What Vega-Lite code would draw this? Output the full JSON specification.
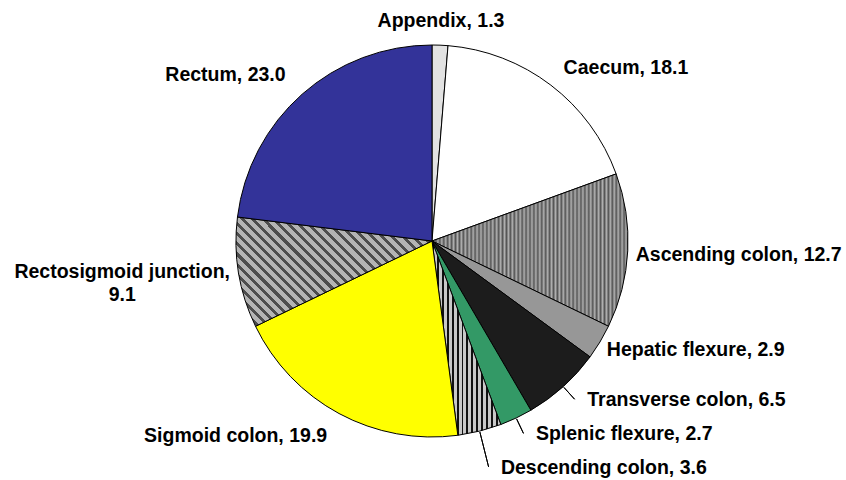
{
  "$schema": "https://vega.github.io/schema/vega-lite/v6.json",
  "width": 828,
  "height": 478,
  "padding": {"left": 18, "top": 2, "right": 0, "bottom": 0},
  "autosize": {"type": "none"},
  "background": "white",
  "config": {"view": {"stroke": null}, "text": {"font": "Liberation Sans", "fontWeight": "bold", "fontSize": 19.5, "color": "black", "baseline": "middle"}},
  "data": {
    "values": [
      {"idx": 1, "part": "Appendix", "pct": 1.3, "label": "Appendix, 1.3"},
      {"idx": 2, "part": "Caecum", "pct": 18.1, "label": "Caecum, 18.1"},
      {"idx": 3, "part": "Ascending colon", "pct": 12.7, "label": "Ascending colon, 12.7"},
      {"idx": 4, "part": "Hepatic flexure", "pct": 2.9, "label": "Hepatic flexure, 2.9"},
      {"idx": 5, "part": "Transverse colon", "pct": 6.5, "label": "Transverse colon, 6.5"},
      {"idx": 6, "part": "Splenic flexure", "pct": 2.7, "label": "Splenic flexure, 2.7"},
      {"idx": 7, "part": "Descending colon", "pct": 3.6, "label": "Descending colon, 3.6"},
      {"idx": 8, "part": "Sigmoid colon", "pct": 19.9, "label": "Sigmoid colon, 19.9"},
      {"idx": 9, "part": "Rectosigmoid junction", "pct": 9.1, "label": "Rectosigmoid junction,\n9.1"},
      {"idx": 10, "part": "Rectum", "pct": 23.0, "label": "Rectum, 23.0"}
    ]
  },
  "layer": [
    {
      "mark": {"type": "arc", "radius": 196, "stroke": "black", "strokeWidth": 1},
      "encoding": {
        "theta": {"field": "pct", "type": "quantitative", "stack": true},
        "order": {"field": "idx", "type": "quantitative"},
        "fill": {
          "condition": [
            {"test": "datum.part === 'Ascending colon'", "value": {"gradient": "linear", "x1": 0, "y1": 0, "x2": 1, "y2": 0, "stops": [
              {"offset":0,"color":"#555"},{"offset":0.01,"color":"#b0b0b0"},{"offset":0.02,"color":"#555"},{"offset":0.03,"color":"#b0b0b0"},{"offset":0.04,"color":"#555"},{"offset":0.05,"color":"#b0b0b0"},{"offset":0.06,"color":"#555"},{"offset":0.07,"color":"#b0b0b0"},{"offset":0.08,"color":"#555"},{"offset":0.09,"color":"#b0b0b0"},
              {"offset":0.1,"color":"#555"},{"offset":0.11,"color":"#b0b0b0"},{"offset":0.12,"color":"#555"},{"offset":0.13,"color":"#b0b0b0"},{"offset":0.14,"color":"#555"},{"offset":0.15,"color":"#b0b0b0"},{"offset":0.16,"color":"#555"},{"offset":0.17,"color":"#b0b0b0"},{"offset":0.18,"color":"#555"},{"offset":0.19,"color":"#b0b0b0"},
              {"offset":0.2,"color":"#555"},{"offset":0.21,"color":"#b0b0b0"},{"offset":0.22,"color":"#555"},{"offset":0.23,"color":"#b0b0b0"},{"offset":0.24,"color":"#555"},{"offset":0.25,"color":"#b0b0b0"},{"offset":0.26,"color":"#555"},{"offset":0.27,"color":"#b0b0b0"},{"offset":0.28,"color":"#555"},{"offset":0.29,"color":"#b0b0b0"},
              {"offset":0.3,"color":"#555"},{"offset":0.31,"color":"#b0b0b0"},{"offset":0.32,"color":"#555"},{"offset":0.33,"color":"#b0b0b0"},{"offset":0.34,"color":"#555"},{"offset":0.35,"color":"#b0b0b0"},{"offset":0.36,"color":"#555"},{"offset":0.37,"color":"#b0b0b0"},{"offset":0.38,"color":"#555"},{"offset":0.39,"color":"#b0b0b0"},
              {"offset":0.4,"color":"#555"},{"offset":0.41,"color":"#b0b0b0"},{"offset":0.42,"color":"#555"},{"offset":0.43,"color":"#b0b0b0"},{"offset":0.44,"color":"#555"},{"offset":0.45,"color":"#b0b0b0"},{"offset":0.46,"color":"#555"},{"offset":0.47,"color":"#b0b0b0"},{"offset":0.48,"color":"#555"},{"offset":0.49,"color":"#b0b0b0"},
              {"offset":0.5,"color":"#555"},{"offset":0.51,"color":"#b0b0b0"},{"offset":0.52,"color":"#555"},{"offset":0.53,"color":"#b0b0b0"},{"offset":0.54,"color":"#555"},{"offset":0.55,"color":"#b0b0b0"},{"offset":0.56,"color":"#555"},{"offset":0.57,"color":"#b0b0b0"},{"offset":0.58,"color":"#555"},{"offset":0.59,"color":"#b0b0b0"},
              {"offset":0.6,"color":"#555"},{"offset":0.61,"color":"#b0b0b0"},{"offset":0.62,"color":"#555"},{"offset":0.63,"color":"#b0b0b0"},{"offset":0.64,"color":"#555"},{"offset":0.65,"color":"#b0b0b0"},{"offset":0.66,"color":"#555"},{"offset":0.67,"color":"#b0b0b0"},{"offset":0.68,"color":"#555"},{"offset":0.69,"color":"#b0b0b0"},
              {"offset":0.7,"color":"#555"},{"offset":0.71,"color":"#b0b0b0"},{"offset":0.72,"color":"#555"},{"offset":0.73,"color":"#b0b0b0"},{"offset":0.74,"color":"#555"},{"offset":0.75,"color":"#b0b0b0"},{"offset":0.76,"color":"#555"},{"offset":0.77,"color":"#b0b0b0"},{"offset":0.78,"color":"#555"},{"offset":0.79,"color":"#b0b0b0"},
              {"offset":0.8,"color":"#555"},{"offset":0.81,"color":"#b0b0b0"},{"offset":0.82,"color":"#555"},{"offset":0.83,"color":"#b0b0b0"},{"offset":0.84,"color":"#555"},{"offset":0.85,"color":"#b0b0b0"},{"offset":0.86,"color":"#555"},{"offset":0.87,"color":"#b0b0b0"},{"offset":0.88,"color":"#555"},{"offset":0.89,"color":"#b0b0b0"},
              {"offset":0.9,"color":"#555"},{"offset":0.91,"color":"#b0b0b0"},{"offset":0.92,"color":"#555"},{"offset":0.93,"color":"#b0b0b0"},{"offset":0.94,"color":"#555"},{"offset":0.95,"color":"#b0b0b0"},{"offset":0.96,"color":"#555"},{"offset":0.97,"color":"#b0b0b0"},{"offset":0.98,"color":"#555"},{"offset":0.99,"color":"#b0b0b0"},
              {"offset":1,"color":"#555"}
            ]}},
            {"test": "datum.part === 'Descending colon'", "value": {"gradient": "linear", "x1": 0, "y1": 0, "x2": 1, "y2": 0, "stops": [
              {"offset":0,"color":"#111"},{"offset":0.0286,"color":"#111"},{"offset":0.0286,"color":"#c8c8c8"},{"offset":0.0714,"color":"#c8c8c8"},
              {"offset":0.0714,"color":"#111"},{"offset":0.1,"color":"#111"},{"offset":0.1,"color":"#c8c8c8"},{"offset":0.1429,"color":"#c8c8c8"},
              {"offset":0.1429,"color":"#111"},{"offset":0.1714,"color":"#111"},{"offset":0.1714,"color":"#c8c8c8"},{"offset":0.2143,"color":"#c8c8c8"},
              {"offset":0.2143,"color":"#111"},{"offset":0.2429,"color":"#111"},{"offset":0.2429,"color":"#c8c8c8"},{"offset":0.2857,"color":"#c8c8c8"},
              {"offset":0.2857,"color":"#111"},{"offset":0.3143,"color":"#111"},{"offset":0.3143,"color":"#c8c8c8"},{"offset":0.3571,"color":"#c8c8c8"},
              {"offset":0.3571,"color":"#111"},{"offset":0.3857,"color":"#111"},{"offset":0.3857,"color":"#c8c8c8"},{"offset":0.4286,"color":"#c8c8c8"},
              {"offset":0.4286,"color":"#111"},{"offset":0.4571,"color":"#111"},{"offset":0.4571,"color":"#c8c8c8"},{"offset":0.5,"color":"#c8c8c8"},
              {"offset":0.5,"color":"#111"},{"offset":0.5286,"color":"#111"},{"offset":0.5286,"color":"#c8c8c8"},{"offset":0.5714,"color":"#c8c8c8"},
              {"offset":0.5714,"color":"#111"},{"offset":0.6,"color":"#111"},{"offset":0.6,"color":"#c8c8c8"},{"offset":0.6429,"color":"#c8c8c8"},
              {"offset":0.6429,"color":"#111"},{"offset":0.6714,"color":"#111"},{"offset":0.6714,"color":"#c8c8c8"},{"offset":0.7143,"color":"#c8c8c8"},
              {"offset":0.7143,"color":"#111"},{"offset":0.7429,"color":"#111"},{"offset":0.7429,"color":"#c8c8c8"},{"offset":0.7857,"color":"#c8c8c8"},
              {"offset":0.7857,"color":"#111"},{"offset":0.8143,"color":"#111"},{"offset":0.8143,"color":"#c8c8c8"},{"offset":0.8571,"color":"#c8c8c8"},
              {"offset":0.8571,"color":"#111"},{"offset":0.8857,"color":"#111"},{"offset":0.8857,"color":"#c8c8c8"},{"offset":0.9286,"color":"#c8c8c8"},
              {"offset":0.9286,"color":"#111"},{"offset":0.9571,"color":"#111"},{"offset":0.9571,"color":"#c8c8c8"},{"offset":1,"color":"#c8c8c8"}
            ]}},
            {"test": "datum.part === 'Rectosigmoid junction'", "value": {"gradient": "linear", "x1": 0, "y1": 1, "x2": 1.188, "y2": 0.338, "stops": [
              {"offset":0,"color":"#4d4d4d"},{"offset":0.0133,"color":"#4d4d4d"},{"offset":0.0133,"color":"#b4b4b4"},{"offset":0.0333,"color":"#b4b4b4"},
              {"offset":0.0333,"color":"#4d4d4d"},{"offset":0.0467,"color":"#4d4d4d"},{"offset":0.0467,"color":"#b4b4b4"},{"offset":0.0667,"color":"#b4b4b4"},
              {"offset":0.0667,"color":"#4d4d4d"},{"offset":0.08,"color":"#4d4d4d"},{"offset":0.08,"color":"#b4b4b4"},{"offset":0.1,"color":"#b4b4b4"},
              {"offset":0.1,"color":"#4d4d4d"},{"offset":0.1133,"color":"#4d4d4d"},{"offset":0.1133,"color":"#b4b4b4"},{"offset":0.1333,"color":"#b4b4b4"},
              {"offset":0.1333,"color":"#4d4d4d"},{"offset":0.1467,"color":"#4d4d4d"},{"offset":0.1467,"color":"#b4b4b4"},{"offset":0.1667,"color":"#b4b4b4"},
              {"offset":0.1667,"color":"#4d4d4d"},{"offset":0.18,"color":"#4d4d4d"},{"offset":0.18,"color":"#b4b4b4"},{"offset":0.2,"color":"#b4b4b4"},
              {"offset":0.2,"color":"#4d4d4d"},{"offset":0.2133,"color":"#4d4d4d"},{"offset":0.2133,"color":"#b4b4b4"},{"offset":0.2333,"color":"#b4b4b4"},
              {"offset":0.2333,"color":"#4d4d4d"},{"offset":0.2467,"color":"#4d4d4d"},{"offset":0.2467,"color":"#b4b4b4"},{"offset":0.2667,"color":"#b4b4b4"},
              {"offset":0.2667,"color":"#4d4d4d"},{"offset":0.28,"color":"#4d4d4d"},{"offset":0.28,"color":"#b4b4b4"},{"offset":0.3,"color":"#b4b4b4"},
              {"offset":0.3,"color":"#4d4d4d"},{"offset":0.3133,"color":"#4d4d4d"},{"offset":0.3133,"color":"#b4b4b4"},{"offset":0.3333,"color":"#b4b4b4"},
              {"offset":0.3333,"color":"#4d4d4d"},{"offset":0.3467,"color":"#4d4d4d"},{"offset":0.3467,"color":"#b4b4b4"},{"offset":0.3667,"color":"#b4b4b4"},
              {"offset":0.3667,"color":"#4d4d4d"},{"offset":0.38,"color":"#4d4d4d"},{"offset":0.38,"color":"#b4b4b4"},{"offset":0.4,"color":"#b4b4b4"},
              {"offset":0.4,"color":"#4d4d4d"},{"offset":0.4133,"color":"#4d4d4d"},{"offset":0.4133,"color":"#b4b4b4"},{"offset":0.4333,"color":"#b4b4b4"},
              {"offset":0.4333,"color":"#4d4d4d"},{"offset":0.4467,"color":"#4d4d4d"},{"offset":0.4467,"color":"#b4b4b4"},{"offset":0.4667,"color":"#b4b4b4"},
              {"offset":0.4667,"color":"#4d4d4d"},{"offset":0.48,"color":"#4d4d4d"},{"offset":0.48,"color":"#b4b4b4"},{"offset":0.5,"color":"#b4b4b4"},
              {"offset":0.5,"color":"#4d4d4d"},{"offset":0.5133,"color":"#4d4d4d"},{"offset":0.5133,"color":"#b4b4b4"},{"offset":0.5333,"color":"#b4b4b4"},
              {"offset":0.5333,"color":"#4d4d4d"},{"offset":0.5467,"color":"#4d4d4d"},{"offset":0.5467,"color":"#b4b4b4"},{"offset":0.5667,"color":"#b4b4b4"},
              {"offset":0.5667,"color":"#4d4d4d"},{"offset":0.58,"color":"#4d4d4d"},{"offset":0.58,"color":"#b4b4b4"},{"offset":0.6,"color":"#b4b4b4"},
              {"offset":0.6,"color":"#4d4d4d"},{"offset":0.6133,"color":"#4d4d4d"},{"offset":0.6133,"color":"#b4b4b4"},{"offset":0.6333,"color":"#b4b4b4"},
              {"offset":0.6333,"color":"#4d4d4d"},{"offset":0.6467,"color":"#4d4d4d"},{"offset":0.6467,"color":"#b4b4b4"},{"offset":0.6667,"color":"#b4b4b4"},
              {"offset":0.6667,"color":"#4d4d4d"},{"offset":0.68,"color":"#4d4d4d"},{"offset":0.68,"color":"#b4b4b4"},{"offset":0.7,"color":"#b4b4b4"},
              {"offset":0.7,"color":"#4d4d4d"},{"offset":0.7133,"color":"#4d4d4d"},{"offset":0.7133,"color":"#b4b4b4"},{"offset":0.7333,"color":"#b4b4b4"},
              {"offset":0.7333,"color":"#4d4d4d"},{"offset":0.7467,"color":"#4d4d4d"},{"offset":0.7467,"color":"#b4b4b4"},{"offset":0.7667,"color":"#b4b4b4"},
              {"offset":0.7667,"color":"#4d4d4d"},{"offset":0.78,"color":"#4d4d4d"},{"offset":0.78,"color":"#b4b4b4"},{"offset":0.8,"color":"#b4b4b4"},
              {"offset":0.8,"color":"#4d4d4d"},{"offset":0.8133,"color":"#4d4d4d"},{"offset":0.8133,"color":"#b4b4b4"},{"offset":0.8333,"color":"#b4b4b4"},
              {"offset":0.8333,"color":"#4d4d4d"},{"offset":0.8467,"color":"#4d4d4d"},{"offset":0.8467,"color":"#b4b4b4"},{"offset":0.8667,"color":"#b4b4b4"},
              {"offset":0.8667,"color":"#4d4d4d"},{"offset":0.88,"color":"#4d4d4d"},{"offset":0.88,"color":"#b4b4b4"},{"offset":0.9,"color":"#b4b4b4"},
              {"offset":0.9,"color":"#4d4d4d"},{"offset":0.9133,"color":"#4d4d4d"},{"offset":0.9133,"color":"#b4b4b4"},{"offset":0.9333,"color":"#b4b4b4"},
              {"offset":0.9333,"color":"#4d4d4d"},{"offset":0.9467,"color":"#4d4d4d"},{"offset":0.9467,"color":"#b4b4b4"},{"offset":0.9667,"color":"#b4b4b4"},
              {"offset":0.9667,"color":"#4d4d4d"},{"offset":0.98,"color":"#4d4d4d"},{"offset":0.98,"color":"#b4b4b4"},{"offset":1,"color":"#b4b4b4"}
            ]}}
          ],
          "field": "part",
          "type": "nominal",
          "scale": {
            "domain": ["Appendix", "Caecum", "Ascending colon", "Hepatic flexure", "Transverse colon", "Splenic flexure", "Descending colon", "Sigmoid colon", "Rectosigmoid junction", "Rectum"],
            "range": ["#e2e2e2", "#ffffff", "#888888", "#979797", "#1c1c1c", "#339966", "#777777", "#ffff00", "#888888", "#333399"]
          },
          "legend": null
        }
      }
    },
    {
      "transform": [
        {"stack": "pct", "groupby": [], "sort": [{"field": "idx"}], "as": ["s0", "s1"]},
        {"calculate": "(datum.s0 + datum.s1) / 2", "as": "mid"},
        {"filter": "indexof(['Transverse colon','Splenic flexure'], datum.part) >= 0"}
      ],
      "mark": {"type": "arc", "innerRadius": 197, "outerRadius": 213, "stroke": "black", "strokeWidth": 1, "fill": null},
      "encoding": {
        "theta": {"field": "mid", "type": "quantitative"},
        "theta2": {"field": "mid"}
      }
    },
    {
      "transform": [
        {"stack": "pct", "groupby": [], "sort": [{"field": "idx"}], "as": ["s0", "s1"]},
        {"calculate": "(datum.s0 + datum.s1) / 2", "as": "mid"},
        {"filter": "datum.part === 'Descending colon'"}
      ],
      "mark": {"type": "arc", "innerRadius": 197, "outerRadius": 233, "stroke": "black", "strokeWidth": 1, "fill": null},
      "encoding": {
        "theta": {"field": "mid", "type": "quantitative"},
        "theta2": {"field": "mid"}
      }
    },
    {
      "mark": {"type": "text", "radius": 204, "dy": 4, "align": "left"},
      "encoding": {
        "theta": {"field": "pct", "type": "quantitative", "stack": true},
        "order": {"field": "idx", "type": "quantitative"},
        "text": {"condition": {"test": "indexof(['Ascending colon','Hepatic flexure'], datum.part) >= 0", "field": "label"}, "value": ""}
      }
    },
    {
      "mark": {"type": "text", "radius": 217, "align": "left"},
      "encoding": {
        "theta": {"field": "pct", "type": "quantitative", "stack": true},
        "order": {"field": "idx", "type": "quantitative"},
        "text": {"condition": {"test": "datum.part === 'Caecum'", "field": "label"}, "value": ""}
      }
    },
    {
      "mark": {"type": "text", "radius": 214, "dx": 12, "align": "left"},
      "encoding": {
        "theta": {"field": "pct", "type": "quantitative", "stack": true},
        "order": {"field": "idx", "type": "quantitative"},
        "text": {"condition": {"test": "indexof(['Transverse colon','Splenic flexure'], datum.part) >= 0", "field": "label"}, "value": ""}
      }
    },
    {
      "mark": {"type": "text", "radius": 234, "dx": 12, "align": "left"},
      "encoding": {
        "theta": {"field": "pct", "type": "quantitative", "stack": true},
        "order": {"field": "idx", "type": "quantitative"},
        "text": {"condition": {"test": "datum.part === 'Descending colon'", "field": "label"}, "value": ""}
      }
    },
    {
      "mark": {"type": "text", "radius": 221, "align": "right"},
      "encoding": {
        "theta": {"field": "pct", "type": "quantitative", "stack": true},
        "order": {"field": "idx", "type": "quantitative"},
        "text": {"condition": {"test": "indexof(['Sigmoid colon','Rectum'], datum.part) >= 0", "field": "label"}, "value": ""}
      }
    },
    {
      "mark": {"type": "text", "radius": 220, "align": "center"},
      "encoding": {
        "theta": {"field": "pct", "type": "quantitative", "stack": true},
        "order": {"field": "idx", "type": "quantitative"},
        "text": {"condition": {"test": "datum.part === 'Appendix'", "field": "label"}, "value": ""}
      }
    },
    {
      "mark": {"type": "text", "radius": 314, "dy": -20, "align": "center", "lineBreak": "\n", "lineHeight": 23},
      "encoding": {
        "theta": {"field": "pct", "type": "quantitative", "stack": true},
        "order": {"field": "idx", "type": "quantitative"},
        "text": {"condition": {"test": "datum.part === 'Rectosigmoid junction'", "field": "label"}, "value": ""}
      }
    }
  ]
}
